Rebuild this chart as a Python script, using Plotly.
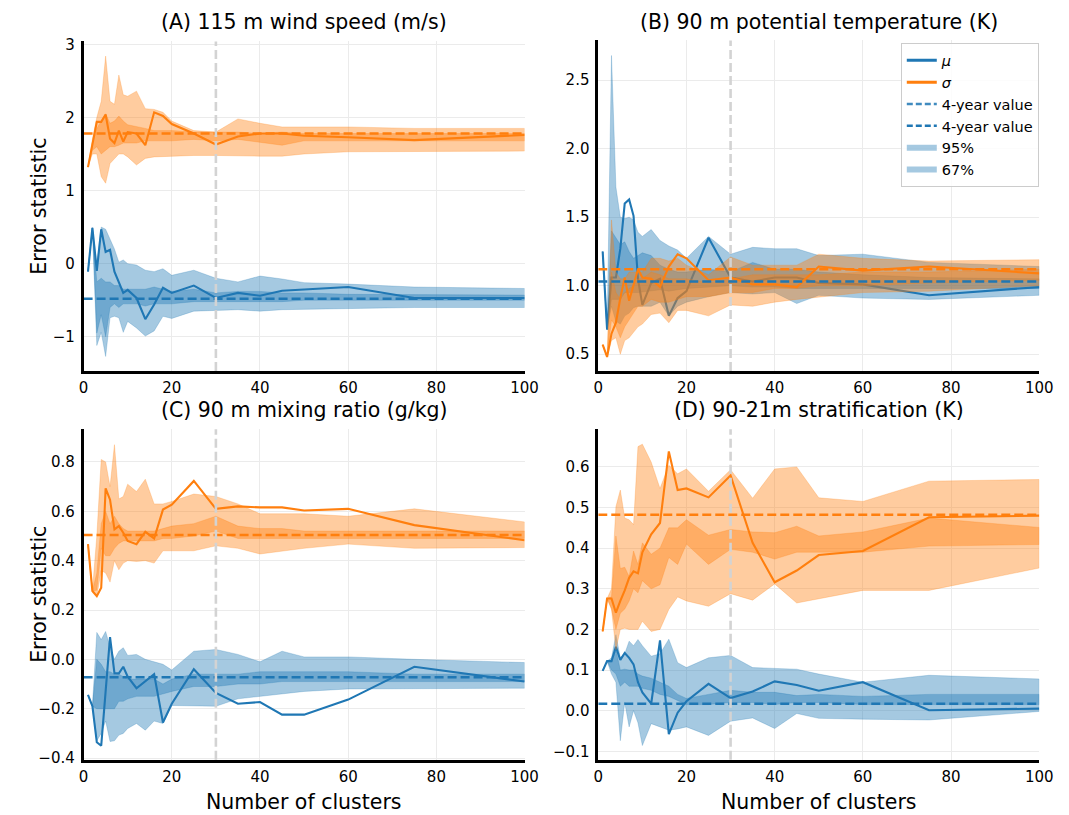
import plotly.graph_objects as go

# ---------------- data ----------------
CLUSTERS = [1, 2, 3, 4, 5, 6, 7, 8, 9, 10, 12, 14, 16, 18, 20, 25, 30, 35, 40, 45, 50, 60, 75, 100]
X_LIMITS = [0, 100]
X_TICKS = [0, 20, 40, 60, 80, 100]
CHOSEN_CLUSTERS = 30

# (A) 115 m wind speed
A_MU = [-0.11, 0.49, -0.10, 0.47, 0.16, 0.19, -0.11, -0.25, -0.40, -0.36, -0.47, -0.76, -0.56, -0.33, -0.40, -0.30, -0.47, -0.40, -0.44, -0.37, -0.35, -0.32, -0.47, -0.47]
A_MU95_HI = [-0.11, 0.49, 0.00, 0.50, 0.47, 0.34, 0.20, 0.02, 0.05, 0.00, -0.02, -0.09, -0.11, -0.07, -0.16, -0.09, -0.20, -0.25, -0.17, -0.21, -0.26, -0.28, -0.32, -0.34]
A_MU95_LO = [-0.11, 0.49, -1.12, -0.94, -1.27, -0.74, -0.72, -0.74, -0.94, -0.79, -0.88, -0.99, -0.92, -0.72, -0.75, -0.65, -0.64, -0.63, -0.65, -0.63, -0.62, -0.61, -0.60, -0.60]
A_MU67_HI = [-0.11, 0.49, -0.25, -0.20, -0.25, -0.25, -0.30, -0.30, -0.35, -0.35, -0.35, -0.35, -0.32, -0.35, -0.38, -0.35, -0.40, -0.38, -0.38, -0.40, -0.40, -0.42, -0.42, -0.43]
A_MU67_LO = [-0.11, 0.49, -0.95, -0.70, -1.00, -0.60, -0.55, -0.60, -0.55, -0.55, -0.55, -0.58, -0.55, -0.55, -0.55, -0.52, -0.52, -0.52, -0.52, -0.52, -0.50, -0.50, -0.50, -0.50]
A_SIG = [1.32, 1.64, 1.94, 1.94, 2.04, 1.71, 1.65, 1.82, 1.67, 1.80, 1.78, 1.62, 2.07, 2.02, 1.91, 1.78, 1.63, 1.74, 1.78, 1.78, 1.75, 1.73, 1.69, 1.76]
A_SIG95_HI = [1.32, 1.70, 2.00, 2.22, 2.84, 2.22, 2.18, 2.58, 2.31, 2.29, 2.36, 2.12, 2.11, 2.07, 1.95, 1.82, 1.80, 1.98, 1.92, 1.87, 1.87, 1.87, 1.85, 1.85]
A_SIG95_LO = [1.32, 1.50, 1.50, 1.19, 1.10, 1.37, 1.44, 1.50, 1.50, 1.46, 1.35, 1.44, 1.46, 1.47, 1.47, 1.48, 1.48, 1.48, 1.47, 1.47, 1.50, 1.53, 1.54, 1.54]
A_SIG67_HI = [1.32, 1.65, 1.85, 1.95, 2.05, 1.92, 1.95, 2.02, 1.95, 1.90, 1.88, 1.85, 1.82, 1.82, 1.82, 1.80, 1.80, 1.80, 1.78, 1.80, 1.78, 1.78, 1.78, 1.78]
A_SIG67_LO = [1.32, 1.55, 1.60, 1.50, 1.55, 1.60, 1.60, 1.62, 1.65, 1.65, 1.65, 1.68, 1.68, 1.68, 1.68, 1.70, 1.68, 1.70, 1.66, 1.62, 1.68, 1.68, 1.68, 1.68]
A_MU_4YR = -0.48
A_SIG_4YR = 1.78

# (B) 90 m potential temperature
B_MU = [1.25, 0.68, 1.06, 1.06, 1.27, 1.60, 1.63, 1.51, 1.05, 0.86, 1.02, 1.05, 0.78, 0.91, 0.96, 1.35, 1.06, 1.03, 1.06, 1.06, 1.02, 1.01, 0.93, 0.99]
B_MU95_HI = [1.25, 0.68, 2.68, 1.72, 1.50, 1.49, 1.50, 1.48, 1.39, 1.36, 1.41, 1.33, 1.29, 1.26, 1.20, 1.36, 1.23, 1.28, 1.27, 1.27, 1.22, 1.23, 1.17, 1.14]
B_MU95_LO = [1.25, 0.68, 0.85, 0.74, 0.72, 0.78, 0.80, 0.84, 0.85, 0.85, 0.85, 0.88, 0.78, 0.85, 0.88, 0.92, 0.95, 0.94, 0.95, 0.87, 0.93, 0.91, 0.90, 0.93]
B_MU67_HI = [1.25, 0.68, 1.40, 1.35, 1.30, 1.32, 1.25, 1.20, 1.22, 1.24, 1.22, 1.15, 1.12, 1.10, 1.10, 1.12, 1.10, 1.17, 1.12, 1.12, 1.10, 1.08, 1.06, 1.05]
B_MU67_LO = [1.25, 0.68, 0.90, 0.90, 0.90, 0.95, 0.95, 0.95, 0.95, 0.95, 0.96, 0.97, 0.96, 0.97, 0.98, 0.99, 1.00, 0.99, 0.99, 0.98, 0.98, 0.98, 0.98, 0.98]
B_SIG = [0.57, 0.48, 0.65, 0.73, 0.91, 1.06, 0.89, 1.00, 1.12, 1.06, 1.05, 0.99, 1.14, 1.23, 1.20, 1.04, 1.06, 1.01, 1.01, 0.99, 1.14, 1.11, 1.14, 1.09]
B_SIG95_HI = [0.57, 0.48, 1.48, 1.10, 1.05, 1.05, 1.10, 1.10, 1.10, 1.10, 1.20, 1.20, 1.18, 1.20, 1.15, 1.08, 1.21, 1.15, 1.15, 1.15, 1.23, 1.20, 1.18, 1.19]
B_SIG95_LO = [0.57, 0.48, 0.60, 0.62, 0.50, 0.60, 0.62, 0.66, 0.70, 0.72, 0.79, 0.80, 0.73, 0.82, 0.82, 0.78, 0.86, 0.85, 0.88, 0.90, 0.92, 0.95, 0.96, 1.00]
B_SIG67_HI = [0.57, 0.48, 1.10, 0.95, 0.90, 0.95, 0.98, 1.00, 1.05, 1.05, 1.10, 1.08, 1.05, 1.05, 1.05, 1.02, 1.05, 1.08, 1.08, 1.08, 1.08, 1.10, 1.10, 1.12]
B_SIG67_LO = [0.57, 0.48, 0.75, 0.70, 0.62, 0.70, 0.75, 0.80, 0.85, 0.85, 0.90, 0.88, 0.88, 0.90, 0.92, 0.92, 0.95, 0.95, 0.98, 0.98, 1.00, 1.00, 1.02, 1.04]
B_MU_4YR = 1.03
B_SIG_4YR = 1.12

# (C) 90 m mixing ratio
C_MU = [-0.144, -0.19, -0.336, -0.35, -0.13, 0.09, -0.056, -0.057, -0.03, -0.07, -0.117, -0.09, -0.06, -0.256, -0.18, -0.04, -0.136, -0.18, -0.173, -0.224, -0.224, -0.163, -0.03, -0.09]
C_MU95_HI = [-0.144, -0.19, 0.109, 0.08, 0.113, 0.05, 0.0, 0.033, 0.047, 0.016, 0.02, 0.0, -0.01, -0.02, -0.043, 0.033, 0.04, 0.02, -0.01, 0.033, 0.01, 0.01, 0.0, -0.013]
C_MU95_LO = [-0.144, -0.19, -0.33, -0.30, -0.25, -0.333, -0.33, -0.307, -0.30, -0.28, -0.26, -0.287, -0.25, -0.26, -0.187, -0.19, -0.19, -0.16, -0.15, -0.14, -0.13, -0.12, -0.12, -0.117]
C_MU67_HI = [-0.144, -0.19, 0.0, -0.02, -0.05, -0.05, -0.06, -0.06, -0.07, -0.08, -0.08, -0.08, -0.08, -0.10, -0.08, -0.06, -0.06, -0.06, -0.05, -0.05, -0.05, -0.05, -0.06, -0.06]
C_MU67_LO = [-0.144, -0.19, -0.20, -0.20, -0.20, -0.20, -0.20, -0.17, -0.17, -0.16, -0.15, -0.15, -0.15, -0.14, -0.13, -0.11, -0.11, -0.10, -0.10, -0.09, -0.09, -0.09, -0.09, -0.09]
C_SIG = [0.467, 0.277, 0.256, 0.29, 0.693, 0.647, 0.527, 0.54, 0.513, 0.48, 0.467, 0.517, 0.49, 0.607, 0.627, 0.723, 0.61, 0.62, 0.616, 0.616, 0.603, 0.61, 0.544, 0.483]
C_SIG95_HI = [0.467, 0.277, 0.50, 0.81, 0.80, 0.70, 0.87, 0.65, 0.66, 0.71, 0.68, 0.73, 0.63, 0.63, 0.64, 0.67, 0.66, 0.63, 0.59, 0.59, 0.59, 0.58, 0.61, 0.557]
C_SIG95_LO = [0.467, 0.277, 0.256, 0.36, 0.35, 0.313, 0.40, 0.363, 0.39, 0.40, 0.397, 0.40, 0.39, 0.44, 0.44, 0.44, 0.46, 0.45, 0.427, 0.44, 0.45, 0.467, 0.45, 0.453]
C_SIG67_HI = [0.467, 0.277, 0.35, 0.55, 0.60, 0.55, 0.58, 0.55, 0.53, 0.52, 0.52, 0.52, 0.52, 0.53, 0.54, 0.55, 0.58, 0.54, 0.53, 0.53, 0.52, 0.52, 0.52, 0.52]
C_SIG67_LO = [0.467, 0.277, 0.28, 0.45, 0.42, 0.42, 0.45, 0.47, 0.48, 0.48, 0.48, 0.48, 0.48, 0.49, 0.49, 0.50, 0.52, 0.49, 0.49, 0.49, 0.49, 0.49, 0.49, 0.49]
C_MU_4YR = -0.073
C_SIG_4YR = 0.504

# (D) 90-21m stratification
D_MU = [0.098, 0.122, 0.122, 0.157, 0.125, 0.142, 0.13, 0.114, 0.07, 0.045, 0.017, 0.173, -0.058, -0.005, 0.023, 0.066, 0.031, 0.047, 0.072, 0.063, 0.049, 0.07, 0.001, 0.005]
D_MU95_HI = [0.098, 0.122, 0.13, 0.187, 0.13, 0.14, 0.171, 0.16, 0.175, 0.16, 0.134, 0.14, 0.176, 0.118, 0.106, 0.13, 0.136, 0.106, 0.104, 0.102, 0.09, 0.07, 0.087, 0.078]
D_MU95_LO = [0.098, 0.122, 0.09, 0.07, -0.074, 0.02, -0.04, 0.0, -0.03, -0.086, -0.032, -0.04, -0.048, -0.045, -0.04, -0.061, -0.026, -0.018, -0.044, -0.007, -0.019, -0.021, -0.023, -0.002]
D_MU67_HI = [0.098, 0.122, 0.12, 0.15, 0.10, 0.102, 0.10, 0.10, 0.09, 0.085, 0.08, 0.07, 0.06, 0.04, 0.03, 0.04, 0.05, 0.045, 0.045, 0.037, 0.04, 0.035, 0.04, 0.04]
D_MU67_LO = [0.098, 0.122, 0.10, 0.09, 0.06, 0.07, 0.06, 0.06, 0.06, 0.055, 0.05, 0.04, 0.035, 0.025, 0.015, 0.015, 0.02, 0.02, 0.015, 0.02, 0.02, 0.015, 0.015, 0.015]
D_SIG = [0.195, 0.276, 0.276, 0.241, 0.27, 0.296, 0.327, 0.343, 0.338, 0.39, 0.434, 0.462, 0.638, 0.543, 0.547, 0.525, 0.579, 0.413, 0.316, 0.345, 0.383, 0.393, 0.476, 0.48]
D_SIG95_HI = [0.195, 0.276, 0.30, 0.502, 0.543, 0.474, 0.47, 0.458, 0.65, 0.656, 0.612, 0.547, 0.604, 0.583, 0.595, 0.54, 0.593, 0.523, 0.595, 0.60, 0.524, 0.515, 0.565, 0.569]
D_SIG95_LO = [0.195, 0.276, 0.25, 0.15, 0.20, 0.203, 0.20, 0.20, 0.20, 0.22, 0.195, 0.20, 0.249, 0.28, 0.27, 0.257, 0.288, 0.272, 0.312, 0.265, 0.276, 0.296, 0.296, 0.351]
D_SIG67_HI = [0.195, 0.276, 0.28, 0.43, 0.35, 0.353, 0.33, 0.393, 0.36, 0.413, 0.385, 0.40, 0.45, 0.45, 0.47, 0.432, 0.446, 0.44, 0.438, 0.454, 0.43, 0.44, 0.474, 0.451]
D_SIG67_LO = [0.195, 0.276, 0.25, 0.20, 0.24, 0.25, 0.27, 0.30, 0.29, 0.32, 0.30, 0.31, 0.377, 0.36, 0.41, 0.36, 0.397, 0.39, 0.373, 0.39, 0.39, 0.39, 0.405, 0.409]
D_MU_4YR = 0.017
D_SIG_4YR = 0.482

TITLES = ["(A) 115 m wind speed (m/s)", "(B) 90 m potential temperature (K)",
          "(C) 90 m mixing ratio (g/kg)", "(D) 90-21m stratification (K)"]
Y_LABEL = "Error statistic"
X_LABEL = "Number of clusters"
LEGEND_LABELS = ["<i>μ</i>", "<i>σ</i>", "4-year value", "4-year value", "95%", "67%"]

# ---------------- style ----------------
W, H = 1069, 815
BLUE = "#1f77b4"
ORANGE = "#ff7f0e"
FONT = "DejaVu Sans"
BAND_ALPHA = 0.4
TITLE_SIZE = 20.5
LABEL_SIZE = 20.5
TICK_SIZE = 15
LEGEND_SIZE = 14.5


def rgba(hexc, a):
    h = hexc.lstrip("#")
    return "rgba(%d,%d,%d,%.3f)" % (int(h[0:2], 16), int(h[2:4], 16), int(h[4:6], 16), a)


# pixel boxes of each axes: (left, right, top, bottom)
BOXES = [(80, 529, 36, 371), (604, 1053, 35, 371), (80, 529, 430, 766), (604, 1053, 430, 766)]
TITLE_Y = [16, 16, 411, 411]
XLABEL_Y = 809

panels = [
    dict(mu=A_MU, mu95=(A_MU95_HI, A_MU95_LO), mu67=(A_MU67_HI, A_MU67_LO),
         sig=A_SIG, sig95=(A_SIG95_HI, A_SIG95_LO), sig67=(A_SIG67_HI, A_SIG67_LO),
         mu4=A_MU_4YR, sig4=A_SIG_4YR, yr=[-1.47, 3.04], tick0=-1, dtick=1, fmt=""),
    dict(mu=B_MU, mu95=(B_MU95_HI, B_MU95_LO), mu67=(B_MU67_HI, B_MU67_LO),
         sig=B_SIG, sig95=(B_SIG95_HI, B_SIG95_LO), sig67=(B_SIG67_HI, B_SIG67_LO),
         mu4=B_MU_4YR, sig4=B_SIG_4YR, yr=[0.377, 2.79], tick0=0.5, dtick=0.5, fmt=".1f"),
    dict(mu=C_MU, mu95=(C_MU95_HI, C_MU95_LO), mu67=(C_MU67_HI, C_MU67_LO),
         sig=C_SIG, sig95=(C_SIG95_HI, C_SIG95_LO), sig67=(C_SIG67_HI, C_SIG67_LO),
         mu4=C_MU_4YR, sig4=C_SIG_4YR, yr=[-0.407, 0.933], tick0=-0.4, dtick=0.2, fmt=".1f"),
    dict(mu=D_MU, mu95=(D_MU95_HI, D_MU95_LO), mu67=(D_MU67_HI, D_MU67_LO),
         sig=D_SIG, sig95=(D_SIG95_HI, D_SIG95_LO), sig67=(D_SIG67_HI, D_SIG67_LO),
         mu4=D_MU_4YR, sig4=D_SIG_4YR, yr=[-0.121, 0.693], tick0=-0.1, dtick=0.1, fmt=".1f"),
]

fig = go.Figure()


def band(hi, lo, color, xa, ya):
    xs = list(CLUSTERS) + list(CLUSTERS)[::-1]
    ys = list(hi) + list(lo)[::-1]
    return go.Scatter(x=xs, y=ys, fill="toself", fillcolor=rgba(color, BAND_ALPHA),
                      mode="lines", line=dict(width=0.6, color=rgba(color, BAND_ALPHA)),
                      hoverinfo="skip", showlegend=False, xaxis=xa, yaxis=ya)


layout_axes = {}
annotations = []
shapes = []
DASH = "9px,4px"

for i, (p, box) in enumerate(zip(panels, BOXES)):
    n = "" if i == 0 else str(i + 1)
    xa, ya = "x" + n, "y" + n
    l, r, t, b = box
    fig.add_trace(band(p["mu95"][0], p["mu95"][1], BLUE, xa, ya))
    fig.add_trace(band(p["mu67"][0], p["mu67"][1], BLUE, xa, ya))
    fig.add_trace(go.Scatter(x=CLUSTERS, y=p["mu"], mode="lines", line=dict(color=BLUE, width=2.1),
                             showlegend=False, xaxis=xa, yaxis=ya))
    fig.add_trace(band(p["sig95"][0], p["sig95"][1], ORANGE, xa, ya))
    fig.add_trace(band(p["sig67"][0], p["sig67"][1], ORANGE, xa, ya))
    fig.add_trace(go.Scatter(x=CLUSTERS, y=p["sig"], mode="lines", line=dict(color=ORANGE, width=2.1),
                             showlegend=False, xaxis=xa, yaxis=ya))
    fig.add_trace(go.Scatter(x=X_LIMITS, y=[p["mu4"], p["mu4"]], mode="lines",
                             line=dict(color=BLUE, width=2.5, dash=DASH),
                             showlegend=False, xaxis=xa, yaxis=ya))
    fig.add_trace(go.Scatter(x=X_LIMITS, y=[p["sig4"], p["sig4"]], mode="lines",
                             line=dict(color=ORANGE, width=2.5, dash=DASH),
                             showlegend=False, xaxis=xa, yaxis=ya))

    shapes.append(dict(type="line", xref=xa, yref=ya + " domain", x0=CHOSEN_CLUSTERS, x1=CHOSEN_CLUSTERS,
                       y0=0, y1=1, line=dict(color="#d3d3d3", width=2.6, dash="9px,4px"), layer="above"))

    common = dict(showgrid=True, gridcolor="#ebebeb", gridwidth=1, zeroline=False,
                  showline=True, linecolor="black", linewidth=2.6, mirror=False,
                  tickfont=dict(family=FONT, size=TICK_SIZE, color="black"),
                  ticks="outside", tickcolor="rgba(0,0,0,0)")
    layout_axes["xaxis" + n] = dict(domain=[l / W, r / W], range=X_LIMITS, tickvals=X_TICKS,
                                    anchor=ya, ticklen=1, **common)
    yax = dict(domain=[1 - b / H, 1 - t / H], range=p["yr"], tick0=p["tick0"], dtick=p["dtick"],
               anchor=xa, ticklen=3, **common)
    if p["fmt"]:
        yax["tickformat"] = p["fmt"]
    layout_axes["yaxis" + n] = yax

    annotations.append(dict(text=TITLES[i], x=(l + r) / 2 / W, y=1 - TITLE_Y[i] / H,
                            xref="paper", yref="paper", showarrow=False, xanchor="center", yanchor="middle",
                            font=dict(family=FONT, size=TITLE_SIZE, color="black")))
    if i in (0, 2):
        annotations.append(dict(text=Y_LABEL, x=35 / W, y=1 - (t + b) / 2 / H, xref="paper", yref="paper",
                                showarrow=False, textangle=-90, xanchor="center", yanchor="middle",
                                font=dict(family=FONT, size=LABEL_SIZE, color="black")))
    if i in (2, 3):
        annotations.append(dict(text=X_LABEL, x=(l + r) / 2 / W, y=1 - XLABEL_Y / H, xref="paper", yref="paper",
                                showarrow=False, xanchor="center", yanchor="middle",
                                font=dict(family=FONT, size=LABEL_SIZE, color="black")))

# legend entries (drawn in panel B)
leg_specs = [
    dict(mode="lines", line=dict(color=BLUE, width=3)),
    dict(mode="lines", line=dict(color=ORANGE, width=3)),
    dict(mode="lines", line=dict(color=rgba(BLUE, 0.85), width=2.5, dash="6px,3px")),
    dict(mode="lines", line=dict(color=BLUE, width=2.5, dash="6px,3px")),
    dict(mode="none", fill="toself", fillcolor=rgba(BLUE, 0.4)),
    dict(mode="none", fill="toself", fillcolor=rgba(BLUE, 0.4)),
]
for k, (lab, spec) in enumerate(zip(LEGEND_LABELS, leg_specs)):
    fig.add_trace(go.Scatter(x=[None], y=[None], name=lab, legendgroup="g%d" % k,
                             showlegend=True, xaxis="x2", yaxis="y2", **spec))

fig.update_layout(
    width=W, height=H, margin=dict(l=0, r=0, t=0, b=0),
    paper_bgcolor="white", plot_bgcolor="white",
    font=dict(family=FONT, size=TICK_SIZE, color="black"),
    showlegend=True,
    legend=dict(x=912 / W, y=1 - 38 / H, xanchor="left", yanchor="top",
                bgcolor="rgba(255,255,255,0.85)", bordercolor="#cccccc", borderwidth=1,
                font=dict(family=FONT, size=LEGEND_SIZE, color="black"), tracegroupgap=0,
                itemwidth=30),
    annotations=annotations, shapes=shapes,
    **layout_axes,
)

fig.write_html("out.html", config={"displayModeBar": False},
               post_script="document.body.style.margin='0';document.body.style.overflow='hidden';")
